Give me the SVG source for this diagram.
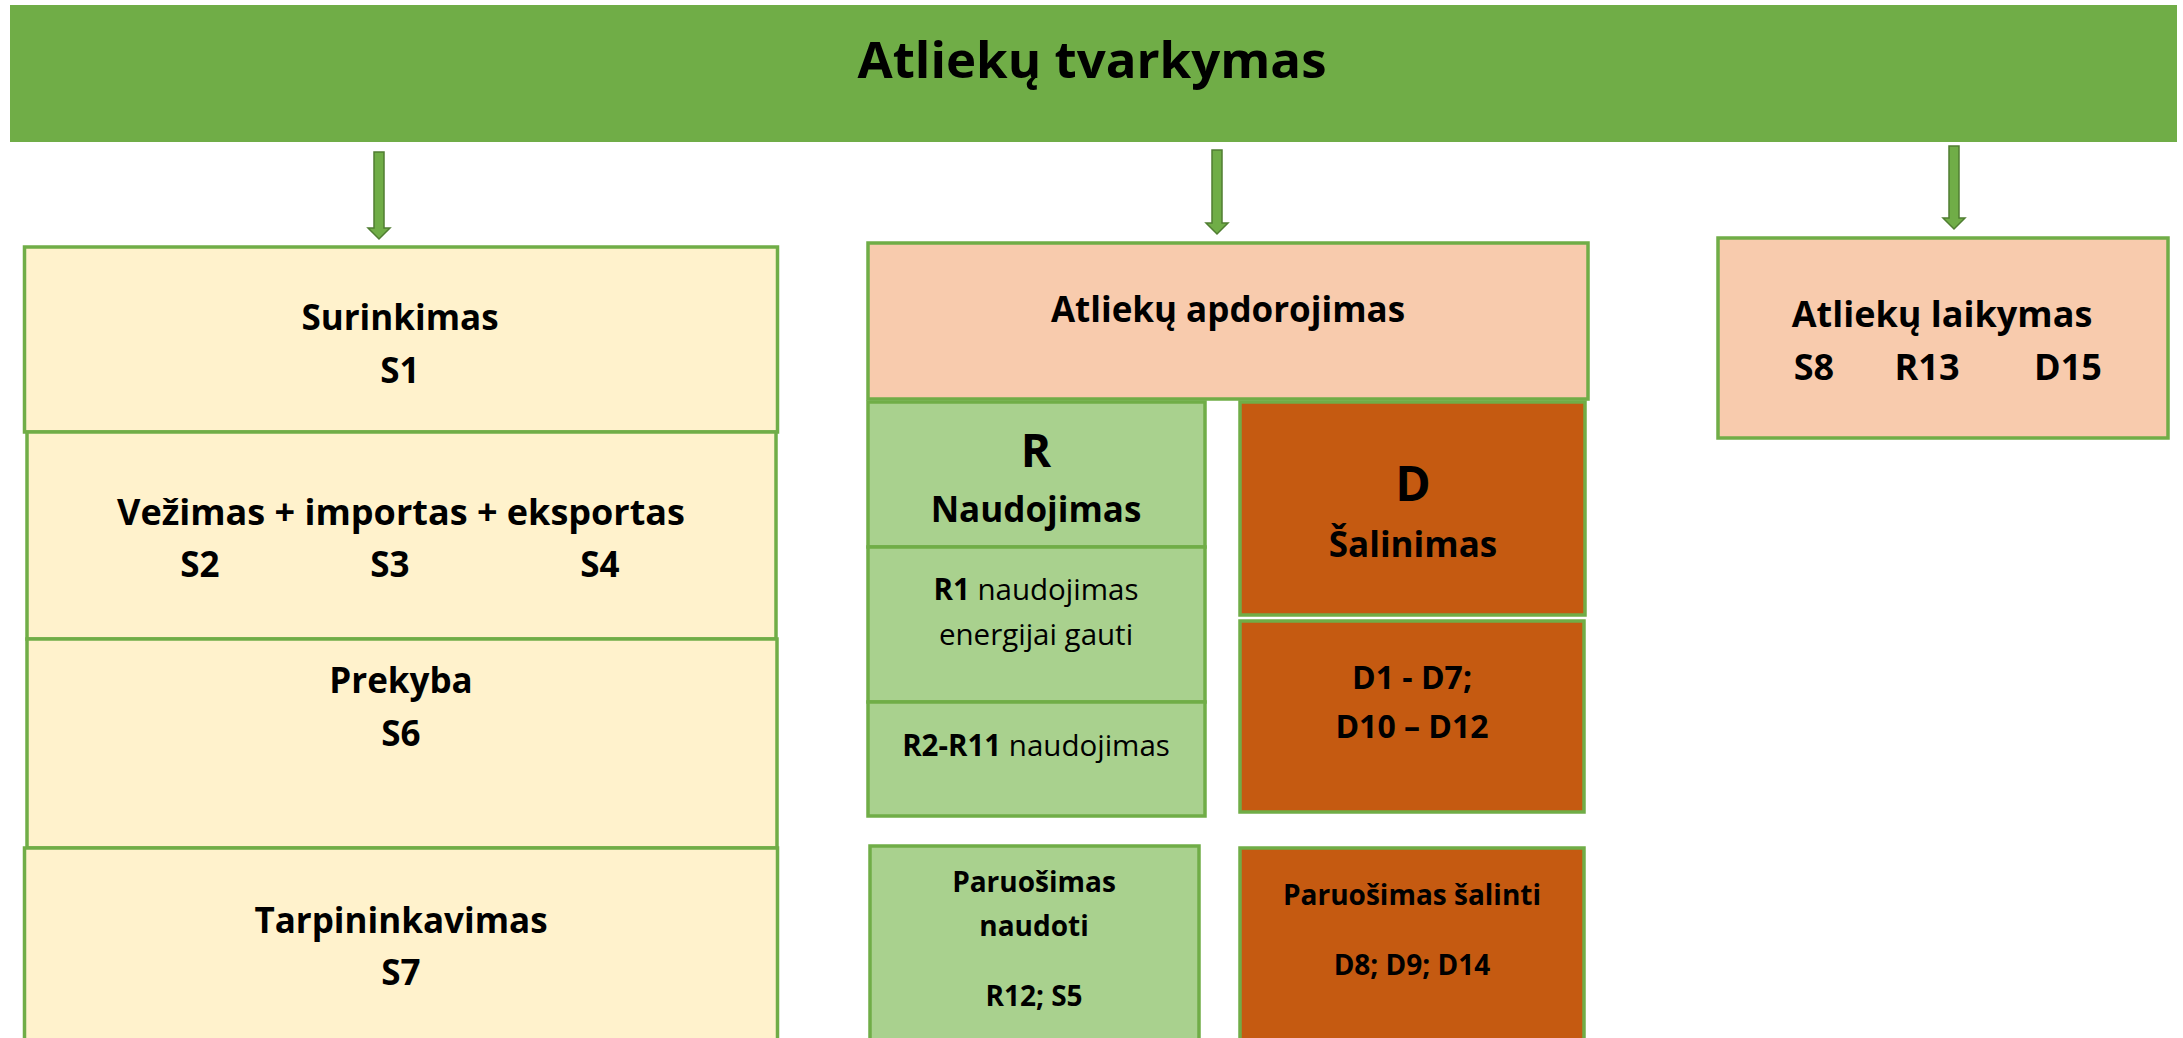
<svg xmlns="http://www.w3.org/2000/svg" width="2183" height="1038" viewBox="0 0 2183 1038">
<style>
text{font-family:"Open Sans","Liberation Sans",sans-serif;font-weight:bold;fill:#000;text-anchor:middle}
.box{stroke:#70AD47;stroke-width:3.5}
.yel{fill:#FFF2CC}
.pea{fill:#F8CBAD}
.lg{fill:#A9D18E}
.org{fill:#C55A11}
.arr{fill:#70AD47;stroke:#507E32;stroke-width:1.5}
.m{font-size:35px}
.s{font-size:28px}
.r{font-size:29.5px}
.n{font-weight:normal}
</style>
<g id="banner">
<rect x="10" y="5" width="2167" height="137" fill="#70AD47"/>
<text x="1092" y="78" style="font-size:51px">Atliekų tvarkymas</text>
</g>
<g id="connectors">
<path class="arr" d="M374,152 H384 V228 H390 L379,239 L368,228 H374 Z"/>
<path class="arr" d="M1212,150 H1222 V223 H1228 L1217,234 L1206,223 H1212 Z"/>
<path class="arr" d="M1949,146 H1959 V218 H1965 L1954,229 L1943,218 H1949 Z"/>
</g>
<g id="surinkimas">
<rect class="box yel" x="24.5" y="247" width="753" height="185"/>
<text class="m" x="400" y="330">Surinkimas</text>
<text class="m" x="400" y="383">S1</text>
</g>
<g id="vezimas">
<rect class="box yel" x="27" y="432" width="749" height="207"/>
<text x="401" y="525" style="font-size:36px">Vežimas + importas + eksportas</text>
<text class="m" x="200" y="577">S2</text>
<text class="m" x="390" y="577">S3</text>
<text class="m" x="600" y="577">S4</text>
</g>
<g id="prekyba">
<rect class="box yel" x="27" y="639" width="750" height="209"/>
<text class="m" x="401" y="693">Prekyba</text>
<text class="m" x="401" y="746">S6</text>
</g>
<g id="tarpininkavimas">
<rect class="box yel" x="24.5" y="848" width="753" height="200"/>
<text class="m" x="401" y="933">Tarpininkavimas</text>
<text class="m" x="401" y="985">S7</text>
</g>
<g id="apdorojimas">
<rect class="box pea" x="868" y="243" width="720" height="156"/>
<text class="m" x="1228" y="322">Atliekų apdorojimas</text>
</g>
<g id="r-naudojimas">
<rect class="box lg" x="868" y="402" width="337" height="145"/>
<text x="1036" y="467" style="font-size:46px">R</text>
<text class="m" x="1036" y="522">Naudojimas</text>
</g>
<g id="d-salinimas">
<rect class="box org" x="1240" y="402" width="345" height="213"/>
<text x="1413" y="501" style="font-size:48px">D</text>
<text class="m" x="1413" y="557">Šalinimas</text>
</g>
<g id="r1">
<rect class="box lg" x="868" y="547" width="337" height="155"/>
<text class="r" x="1036" y="600">R1<tspan class="n"> naudojimas</tspan></text>
<text class="r n" x="1036" y="645">energijai gauti</text>
</g>
<g id="r2-r11">
<rect class="box lg" x="868" y="702" width="337" height="114"/>
<text class="r" x="1036" y="756">R2-R11<tspan class="n"> naudojimas</tspan></text>
</g>
<g id="d1-d12">
<rect class="box org" x="1240" y="621" width="344" height="191"/>
<text x="1412" y="689" style="font-size:32px">D1 - D7;</text>
<text x="1412" y="738" style="font-size:32px">D10 – D12</text>
</g>
<g id="paruosimas-naudoti">
<rect class="box lg" x="870" y="846" width="329" height="200"/>
<text class="s" x="1034" y="892">Paruošimas</text>
<text class="s" x="1034" y="936">naudoti</text>
<text class="s" x="1034" y="1006">R12; S5</text>
</g>
<g id="paruosimas-salinti">
<rect class="box org" x="1240" y="848" width="344" height="200"/>
<text class="s" x="1412" y="905">Paruošimas šalinti</text>
<text class="s" x="1412" y="975">D8; D9; D14</text>
</g>
<g id="laikymas">
<rect class="box pea" x="1718" y="238" width="450" height="200"/>
<text x="1942" y="327" style="font-size:36px">Atliekų laikymas</text>
<text x="1814" y="380" style="font-size:36px">S8</text>
<text x="1927" y="380" style="font-size:36px">R13</text>
<text x="2068" y="380" style="font-size:36px">D15</text>
</g>
</svg>
